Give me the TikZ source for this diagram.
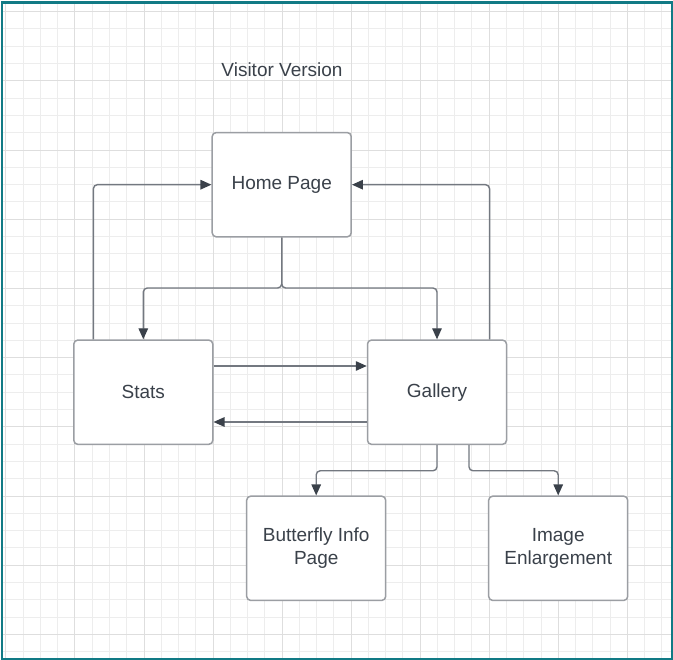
\documentclass[tikz,border=0pt]{standalone}
\usepackage{fontspec}
\setmainfont{Liberation Sans}
\usetikzlibrary{arrows.meta,calc}
\definecolor{frameC}{RGB}{17,122,133}
\definecolor{gridminor}{RGB}{237,237,237}
\definecolor{gridmajor}{RGB}{222,222,222}
\definecolor{boxC}{RGB}{155,158,163}
\definecolor{lineC}{RGB}{115,120,128}
\definecolor{txtC}{RGB}{58,65,74}
\begin{document}
\begin{tikzpicture}[x=1pt,y=-1pt,
  box/.style={draw=boxC,line width=1.5pt,rounded corners=4pt,fill=white,
    minimum width=139pt,minimum height=104.3pt,align=center,text=txtC,
    font=\fontsize{19}{22.5}\selectfont,inner sep=0pt},
  titletext/.style={text=txtC,font=\fontsize{19}{22.5}\selectfont,inner sep=0pt},
  conn/.style={draw=lineC,line width=1.4pt,rounded corners=4pt,
    -{Triangle[length=11pt,width=9.5pt,color=txtC]}},
  gminor/.style={draw=gridminor,line width=1pt},
  gmajor/.style={draw=gridmajor,line width=1pt},
  frame/.style={draw=frameC,line width=2.5pt}
 ]
\useasboundingbox (0,0) rectangle (673,660);
\fill[white] (0,0) rectangle (673,660);
% grid
\begin{scope}
\clip (3,3.7) rectangle (671,658);
\foreach \k in {0,...,38} {\draw[gminor] ({5.95+17.26*\k},0) -- ({5.95+17.26*\k},660);}
\foreach \k in {0,...,37} {\draw[gminor] (0,{11.7+17.3*\k}) -- (673,{11.7+17.3*\k});}
\foreach \k in {0,4,...,36} {\draw[gmajor] ({5.95+17.26*\k},0) -- ({5.95+17.26*\k},660);}
\foreach \k in {0,4,...,36} {\draw[gmajor] (0,{11.7+17.3*\k}) -- (673,{11.7+17.3*\k});}
\end{scope}
\draw[frame] (2,2.7) rectangle (671.8,658.8);
% title
\node[titletext] (title) at (282,70) {Visitor Version};
% boxes
\node[box] (home) at (281.7,184.7) {Home Page};
\node[box] (stats) at (143.3,392.2) {Stats};
\node[box] (gallery) at (437,392.2) {Gallery};
\node[box] (bfly) at (316.2,548.3) {Butterfly Info\\Page};
\node[box] (img) at (558.2,548.3) {Image\\Enlargement};
% connectors
\coordinate (hj) at (281.7,288);
\draw[conn] (home.south) -- (hj) -| (stats.north);
\draw[conn] (home.south) -- (hj) -| (gallery.north);
\coordinate (s1) at ($(stats.north west)+(20.3,0)$);
\draw[conn] (s1) |- (home.west);
\coordinate (g1) at ($(gallery.north east)+(-17.7,0)$);
\draw[conn] (g1) |- (home.east);
\coordinate (s2) at ($(stats.north east)+(0,26.7)$);
\draw[conn] (s2) -- (s2 -| gallery.west);
\coordinate (g2) at ($(gallery.north west)+(0,82.7)$);
\draw[conn] (g2) -- (g2 -| stats.east);
\coordinate (g3) at ($(gallery.south)+(0,25.7)$);
\draw[conn] (gallery.south) -- (g3) -| (bfly.north);
\coordinate (g4) at ($(gallery.south)+(32,0)$);
\coordinate (g5) at ($(g4)+(0,25.7)$);
\draw[conn] (g4) -- (g5) -| (img.north);
\end{tikzpicture}
\end{document}
